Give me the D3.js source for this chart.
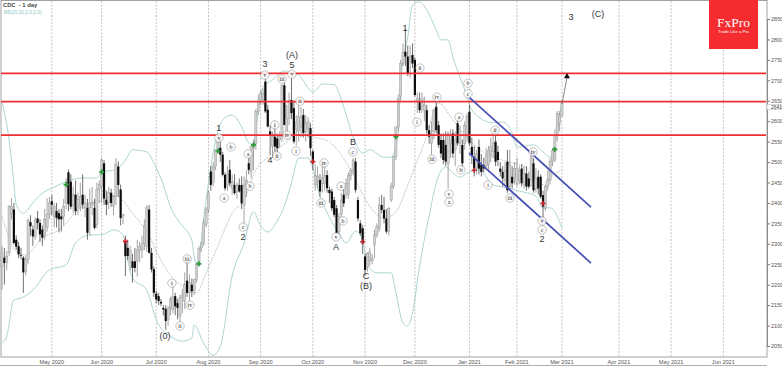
<!DOCTYPE html>
<html>
<head>
<meta charset="utf-8">
<script src="https://cdnjs.cloudflare.com/ajax/libs/d3/7.8.5/d3.min.js"></script>
<style>
  html, body { margin: 0; padding: 0; background: #fff; }
  svg { display: block; }
  svg text { opacity: .99; }
</style>
</head>
<body>
<svg id="chart" width="782" height="366"></svg>
<script>
// daily bars
const opens = [
  2245,2266,2255,2278,2375,2384,2310,2294,2272,2266,
  2232,2262,2353,2335,2318,2362,2351,2335,2320,2340,
  2372,2404,2367,2380,2375,2367,2367,2400,2475,2452,
  2393,2420,2388,2392,2420,2388,2388,2388,2395,2388,
  2347,2433,2440,2497,2408,2400,2425,2392,2415,2489,
  2433,2368,2306,2290,2255,2257,2257,2257,2283,2285,
  2300,2294,2384,2278,2238,2178,2172,2158,2143,2141,
  2115,2143,2140,2172,2155,2123,2168,2160,2210,2180,
  2200,2185,2212,2250,2290,2302,2347,2384,2477,2450,
  2489,2530,2535,2518,2469,2444,2481,2436,2444,2428,
  2444,2444,2395,2440,2497,2477,2534,2546,2623,2648,
  2652,2697,2628,2575,2538,2562,2558,2554,2562,2688,
  2567,2607,2652,2632,2579,2575,2590,2615,2575,2583,
  2583,2526,2444,2455,2456,2448,2448,2468,2432,2428,
  2407,2387,2330,2371,2420,2420,2420,2468,2480,2501,
  2407,2350,2338,2269,2244,2260,2258,2297,2322,2338,
  2395,2383,2362,2330,2407,2440,2513,2586,2660,2741,
  2770,2758,2746,2762,2750,2648,2648,2635,2627,2627,
  2578,2546,2574,2635,2590,2554,2554,2542,2497,2545,
  2570,2530,2595,2546,2542,2546,2562,2623,2537,2513,
  2484,2537,2493,2493,2490,2493,2517,2525,2550,2525,
  2484,2476,2455,2501,2440,2464,2460,2448,2455,2484,
  2445,2472,2460,2456,2497,2435,2464,2464,2419,2386,
  2440,2456,2501,2505,2566,2594,2615
];
const highs = [
  2295,2290,2282,2395,2412,2400,2320,2305,2290,2270,
  2272,2362,2370,2345,2365,2380,2360,2345,2385,2412,
  2415,2420,2400,2400,2385,2385,2410,2460,2482,2470,
  2440,2455,2425,2450,2470,2420,2410,2435,2440,2410,
  2450,2455,2510,2505,2430,2440,2435,2420,2510,2502,
  2445,2372,2320,2310,2295,2275,2290,2310,2305,2320,
  2360,2395,2395,2290,2245,2185,2180,2165,2150,2150,
  2148,2170,2205,2180,2165,2175,2190,2230,2258,2225,
  2215,2215,2255,2295,2305,2360,2390,2430,2490,2500,
  2530,2565,2558,2525,2475,2490,2505,2470,2470,2450,
  2460,2465,2465,2480,2510,2540,2555,2630,2665,2675,
  2680,2705,2640,2590,2575,2600,2570,2575,2690,2695,
  2640,2670,2709,2650,2615,2640,2635,2630,2615,2610,
  2595,2530,2495,2490,2470,2500,2500,2480,2440,2435,
  2415,2395,2375,2425,2440,2460,2475,2485,2510,2510,
  2415,2358,2345,2275,2280,2290,2275,2335,2350,2415,
  2420,2415,2385,2390,2450,2515,2570,2665,2750,2790,
  2825,2785,2785,2790,2755,2670,2670,2670,2660,2640,
  2590,2600,2630,2650,2600,2570,2570,2575,2575,2580,
  2580,2575,2605,2590,2555,2600,2620,2640,2560,2540,
  2530,2555,2520,2510,2535,2540,2560,2575,2578,2540,
  2500,2490,2500,2530,2530,2490,2500,2510,2490,2495,
  2490,2490,2475,2530,2510,2485,2480,2470,2430,2445,
  2480,2510,2535,2580,2625,2625,2650
];
const lows = [
  2188,2200,2235,2270,2360,2298,2285,2265,2262,2180,
  2222,2250,2320,2295,2310,2335,2305,2295,2310,2330,
  2360,2370,2340,2340,2328,2330,2345,2385,2380,2385,
  2375,2370,2370,2380,2385,2365,2310,2320,2370,2335,
  2338,2400,2400,2395,2370,2385,2390,2370,2395,2415,
  2345,2348,2221,2260,2235,2205,2230,2220,2255,2265,
  2285,2280,2276,2230,2170,2155,2150,2148,2125,2090,
  2100,2125,2130,2125,2115,2110,2130,2140,2170,2160,
  2170,2175,2205,2245,2280,2295,2340,2375,2430,2440,
  2480,2525,2500,2465,2430,2430,2440,2420,2420,2410,
  2425,2385,2335,2415,2470,2460,2480,2530,2615,2640,
  2640,2620,2585,2518,2510,2525,2510,2535,2550,2590,
  2555,2590,2605,2545,2540,2550,2560,2560,2550,2560,
  2515,2480,2430,2435,2415,2425,2430,2425,2400,2380,
  2365,2325,2320,2365,2390,2410,2410,2455,2470,2425,
  2355,2320,2275,2222,2232,2245,2250,2265,2315,2330,
  2375,2350,2325,2320,2402,2435,2505,2575,2650,2735,
  2735,2710,2705,2730,2660,2620,2620,2620,2600,2570,
  2545,2518,2555,2570,2535,2510,2495,2490,2436,2510,
  2510,2490,2540,2520,2480,2530,2550,2540,2495,2465,
  2470,2470,2465,2475,2480,2475,2500,2510,2490,2490,
  2465,2440,2445,2425,2430,2435,2445,2440,2445,2440,
  2435,2430,2435,2440,2425,2425,2420,2410,2362,2380,
  2430,2445,2490,2500,2550,2575,2610
];
const closes = [
  2278,2253,2270,2392,2392,2302,2293,2274,2270,2230,
  2262,2357,2343,2318,2358,2351,2323,2315,2360,2372,
  2400,2396,2392,2363,2360,2360,2392,2445,2397,2391,
  2420,2380,2408,2416,2396,2400,2327,2400,2402,2339,
  2433,2445,2505,2411,2396,2425,2400,2416,2495,2444,
  2363,2372,2270,2270,2285,2241,2241,2285,2294,2300,
  2345,2388,2278,2237,2180,2164,2160,2154,2139,2111,
  2143,2164,2170,2147,2143,2168,2175,2200,2180,2205,
  2184,2212,2250,2288,2300,2351,2384,2424,2444,2488,
  2530,2552,2518,2469,2436,2469,2448,2452,2424,2444,
  2428,2399,2444,2456,2481,2538,2545,2623,2648,2668,
  2668,2624,2587,2566,2562,2538,2534,2562,2688,2591,
  2607,2650,2620,2550,2598,2611,2610,2571,2595,2599,
  2534,2497,2468,2465,2428,2460,2468,2436,2424,2387,
  2371,2326,2366,2407,2399,2448,2468,2480,2505,2432,
  2362,2326,2301,2236,2277,2280,2265,2322,2342,2395,
  2383,2362,2330,2387,2440,2513,2586,2656,2741,2768,
  2758,2717,2758,2741,2664,2655,2627,2655,2640,2578,
  2562,2570,2627,2578,2542,2521,2505,2501,2570,2565,
  2521,2555,2546,2574,2497,2590,2611,2546,2517,2484,
  2520,2484,2476,2484,2515,2529,2537,2545,2501,2505,
  2476,2460,2480,2431,2493,2448,2484,2484,2480,2448,
  2472,2440,2440,2513,2431,2460,2435,2415,2391,2440,
  2456,2501,2529,2565,2619,2615,2643
];

// bollinger bands, sampled by bar number
const upperBars = [0,3,5,6,9,13,17,21,28,34,40,42,48,52,55,61,64,68,71,75,80,81,82,86,89,93,97,101,104,106,108,110,114,119,125,131,135,140,144,148,152,155,161,164,167,168,171,173,176,179,183,185,188,190,193,196,197,201,207,211,215,217,218,224,228,231,233,236];
const upperBand = [2647,2554,2449,2395,2375,2400,2424,2436,2454,2461,2461,2476,2481,2505,2530,2525,2498,2444,2390,2351,2309,2268,2248,2407,2522,2603,2615,2586,2547,2542,2627,2684,2701,2723,2713,2671,2691,2689,2635,2561,2522,2530,2512,2512,2571,2694,2806,2884,2892,2872,2823,2799,2799,2757,2708,2659,2640,2610,2596,2598,2571,2537,2537,2542,2525,2512,2547,2652];
const middleBars = [0,6,10,17,24,34,41,48,55,62,67,72,76,82,86,92,97,102,107,112,121,128,130,138,147,154,161,166,171,174,178,184,190,196,200,207,214,221,227,232,236];
const middleBand = [2368,2282,2273,2314,2334,2392,2405,2417,2375,2319,2260,2216,2197,2180,2229,2309,2375,2407,2481,2512,2554,2591,2566,2549,2481,2400,2363,2378,2444,2488,2547,2644,2603,2561,2537,2512,2500,2485,2444,2468,2481];
const lowerBars = [0,2,5,8,13,20,27,31,37,42,47,51,53,55,61,65,71,76,80,81,85,89,92,97,102,106,109,112,116,119,122,125,129,134,142,145,149,152,154,158,164,166,169,171,173,176,180,183,187,190,193,196,201,207,211,218,225,228,231,236];
const lowerBand = [2057,2074,2163,2167,2187,2236,2248,2302,2322,2322,2334,2322,2260,2216,2187,2114,2074,2062,2070,2101,2057,2027,2049,2221,2302,2378,2344,2329,2356,2392,2449,2510,2510,2417,2326,2302,2331,2309,2248,2229,2229,2180,2106,2099,2131,2246,2368,2449,2488,2473,2463,2473,2481,2444,2439,2429,2417,2388,2388,2339];

// levels and drawn lines
const redLevels = [2717, 2648, 2566];
const channelBars = [196.8, 248.2];
const channelTop = [2659, 2390];
const channelBottom = [2522, 2253];
const arrowBars = [236, 238.1];
const arrowPrices = [2643, 2713];

// signal markers
const greenBars = [27, 42, 83, 91, 106, 166, 233];
const greenPrices = [2445, 2476, 2251, 2527, 2542, 2562, 2531];
const redBars = [52, 131, 152, 199, 228];
const redPrices = [2306, 2501, 2305, 2480, 2399];

// wave counts
const waveTexts = ['(0)','2','1','3','(A)','5','4','B','A','C','(B)','1','3','(C)','2'];
const waveBars = [68.7,101.6,91.4,110.8,122.2,122.2,112.9,147.9,140.8,153.4,153.4,169.8,239.8,251.2,227.6];
const wavePrices = [2074,2317,2583,2740,2762,2737,2505,2549,2292,2221,2197,2828,2855,2862,2312];
const circleTexts = ['v','b','a','a','b','c','i','iii','iv','ii','v','iii','v','i','ii','iv','ii','i','c','iv','ii','iv','i','iii','a','b','b','c','ii','iii','a','b','v','v','a','i','iii','iv','v','c'];
const circleBars = [91.4,96.5,103.7,93.6,104.5,101.6,71.6,78,79.2,75,110.8,118,122.2,115,115.9,120.1,125.6,123.9,147.9,135.7,176.1,183.3,174.9,181.2,192.6,193.4,196.4,196.4,207.8,134.4,142.9,143.7,140.8,188.4,188.4,204.8,214.1,223.8,227.6,227.6];
const circlePrices = [2559,2537,2520,2412,2441,2341,2204,2263,2150,2099,2713,2703,2715,2591,2515,2566,2649,2527,2525,2498,2730,2659,2598,2507,2610,2481,2693,2667,2578,2400,2441,2356,2317,2422,2402,2444,2412,2525,2356,2334];

// axis labels
const monthBars = [21,42,65,87,109,131,153,174,197,217,236,260,282,304];
const monthLabels = ['May 2020','Jun 2020','Jul 2020','Aug 2020','Sep 2020','Oct 2020','Nov 2020','Dec 2020','Jan 2021','Feb 2021','Mar 2021','Apr 2021','May 2021','Jun 2021'];
const priceTicks = [2850,2800,2750,2700,2650,2600,2550,2500,2450,2400,2350,2300,2250,2200,2150,2100,2050];
const lastPrice = 2641;

const width = 782, height = 366;
const plotRight = 767, plotBottom = 357;

const x = d3.scaleLinear().domain([0, 236]).range([2, 562]);
const y = d3.scaleLinear().domain([2850, 2050]).range([19, 346]);

const svg = d3.select('#chart');
const font = 'Liberation Sans, Arial, sans-serif';

// month gridlines
svg.append('g').selectAll('line').data(monthBars).enter().append('line')
  .attr('x1', d => x(d)).attr('x2', d => x(d))
  .attr('y1', 1).attr('y2', plotBottom)
  .attr('stroke', '#a9a9a9').attr('stroke-width', 0.7).attr('stroke-dasharray', '2,1.5');

// frame
svg.append('rect').attr('x', 1).attr('y', 0.5).attr('width', plotRight - 1).attr('height', plotBottom - 0.5)
  .attr('fill', 'none').attr('stroke', '#8c8c8c').attr('stroke-width', 0.8);
svg.append('line').attr('x1', 0).attr('x2', plotRight).attr('y1', 365.5).attr('y2', 365.5)
  .attr('stroke', '#9a9a9a').attr('stroke-width', 0.8);

// bands
function bandLine(bars, values) {
  return d3.line().x((d, i) => x(bars[i])).y(d => y(d)).curve(d3.curveMonotoneX)(values);
}
svg.append('path').attr('d', bandLine(upperBars, upperBand)).attr('fill', 'none').attr('stroke', '#a3cfcf').attr('stroke-width', 0.9);
svg.append('path').attr('d', bandLine(lowerBars, lowerBand)).attr('fill', 'none').attr('stroke', '#a3cfcf').attr('stroke-width', 0.9);
svg.append('path').attr('d', bandLine(middleBars, middleBand)).attr('fill', 'none').attr('stroke', '#7f9a9a').attr('stroke-width', 0.7).attr('stroke-dasharray', '1,1');

// candles
const barIndex = d3.range(opens.length);
const candles = svg.append('g');
candles.selectAll('line').data(barIndex).enter().append('line')
  .attr('x1', d => x(d)).attr('x2', d => x(d))
  .attr('y1', d => y(highs[d])).attr('y2', d => y(lows[d]))
  .attr('stroke', d => closes[d] >= opens[d] ? '#7c7c7c' : '#333')
  .attr('stroke-width', 0.7);
candles.selectAll('rect').data(barIndex).enter().append('rect')
  .attr('x', d => x(d) - 1.1)
  .attr('width', 2.2)
  .attr('y', d => y(Math.max(opens[d], closes[d])))
  .attr('height', d => Math.max(0.8, Math.abs(y(opens[d]) - y(closes[d]))))
  .attr('fill', d => closes[d] >= opens[d] ? '#cfcfcf' : '#0c0c0c')
  .attr('stroke', d => closes[d] >= opens[d] ? '#8f8f8f' : 'none')
  .attr('stroke-width', 0.4);

// signal markers
const cross = d3.symbol().type(d3.symbolCross).size(14);
svg.append('g').selectAll('path').data(greenBars).enter().append('path')
  .attr('d', cross).attr('fill', '#2f9a3a')
  .attr('transform', (d, i) => 'translate(' + x(d) + ',' + y(greenPrices[i]) + ')');
svg.append('g').selectAll('path').data(redBars).enter().append('path')
  .attr('d', cross).attr('fill', '#c8262c')
  .attr('transform', (d, i) => 'translate(' + x(d) + ',' + y(redPrices[i]) + ')');

// red levels
svg.append('g').selectAll('line').data(redLevels).enter().append('line')
  .attr('x1', 1).attr('x2', plotRight - 1)
  .attr('y1', d => y(d)).attr('y2', d => y(d))
  .attr('stroke', '#ee2e30').attr('stroke-width', 1.8);

// channel
[channelTop, channelBottom].forEach(function(prices) {
  svg.append('line')
    .attr('x1', x(channelBars[0])).attr('x2', x(channelBars[1]))
    .attr('y1', y(prices[0])).attr('y2', y(prices[1]))
    .attr('stroke', '#464eb4').attr('stroke-width', 1.7);
});

// projection arrow
const tip = [x(arrowBars[1]), y(arrowPrices[1])];
svg.append('line')
  .attr('x1', x(arrowBars[0])).attr('x2', tip[0])
  .attr('y1', y(arrowPrices[0])).attr('y2', tip[1] + 3)
  .attr('stroke', '#6a6a6a').attr('stroke-width', 0.8);
svg.append('path')
  .attr('d', d3.symbol().type(d3.symbolTriangle).size(16))
  .attr('fill', '#111')
  .attr('transform', 'translate(' + tip[0] + ',' + (tip[1] + 1.5) + ')');

// wave labels
svg.append('g').selectAll('text').data(waveTexts).enter().append('text')
  .attr('x', (d, i) => x(waveBars[i]))
  .attr('y', (d, i) => y(wavePrices[i]))
  .attr('dy', '.35em')
  .attr('text-anchor', 'middle')
  .attr('font-family', font).attr('font-size', 9).attr('fill', '#333')
  .text(d => d);

const circled = svg.append('g').selectAll('g').data(circleTexts).enter().append('g')
  .attr('transform', (d, i) => 'translate(' + x(circleBars[i]) + ',' + y(circlePrices[i]) + ')');
circled.append('circle').attr('r', 4.2).attr('fill', '#fff').attr('fill-opacity', 0.8).attr('stroke', '#777').attr('stroke-width', 0.45);
circled.append('text')
  .attr('dy', '.32em').attr('text-anchor', 'middle')
  .attr('font-family', 'Liberation Serif, serif').attr('font-size', 6).attr('fill', '#222')
  .text(d => d);

// price axis
const priceAxis = d3.axisRight(y).tickValues(priceTicks).tickSize(3).tickFormat(d3.format('d'));
const axisG = svg.append('g').attr('transform', 'translate(' + plotRight + ',0)').call(priceAxis);
axisG.select('.domain').attr('stroke', '#8c8c8c');
axisG.selectAll('.tick line').attr('stroke', '#777');
axisG.selectAll('.tick text').attr('x', 4).attr('font-family', font).attr('font-size', 5.6).attr('fill', '#555');

// last price box, nudged down so it clears the 2650 tick label
const lastY = y(lastPrice) + 2.5;
svg.append('rect')
  .attr('x', plotRight).attr('y', lastY - 2.6).attr('width', 14).attr('height', 5.2)
  .attr('fill', '#fff').attr('stroke', '#999').attr('stroke-width', 0.4);
svg.append('text')
  .attr('x', plotRight + 4).attr('y', lastY).attr('dy', '.35em')
  .attr('font-family', font).attr('font-size', 5).attr('fill', '#444')
  .text(lastPrice);

// month labels
svg.append('g').selectAll('text').data(monthLabels).enter().append('text')
  .attr('x', (d, i) => x(monthBars[i]))
  .attr('y', 362).attr('dy', '.35em')
  .attr('text-anchor', 'middle')
  .attr('font-family', font).attr('font-size', 5.6).attr('fill', '#555')
  .text(d => d);

// header
svg.append('text').attr('x', 3).attr('y', 7)
  .attr('font-family', font).attr('font-size', 5.8).attr('font-weight', 'bold').attr('fill', '#444')
  .attr('xml:space', 'preserve').text('CDC  - 1 day');
svg.append('text').attr('x', 4).attr('y', 14)
  .attr('font-family', font).attr('font-size', 4.8).attr('fill', '#8fc4c4')
  .text('BB(20,20,2.0,2.0)');

// logo
svg.append('rect').attr('x', 709).attr('y', 0).attr('width', 49).attr('height', 49).attr('fill', '#f42b2f');
svg.append('text').attr('x', 733.5).attr('y', 27).attr('text-anchor', 'middle')
  .attr('font-family', 'Liberation Serif, serif').attr('font-size', 13.5).attr('fill', '#fff').text('FxPro');
svg.append('text').attr('x', 733.5).attr('y', 33).attr('text-anchor', 'middle')
  .attr('font-family', font).attr('font-size', 4.2).attr('fill', '#fff').text('Trade Like a Pro');
</script>
</body>
</html>
